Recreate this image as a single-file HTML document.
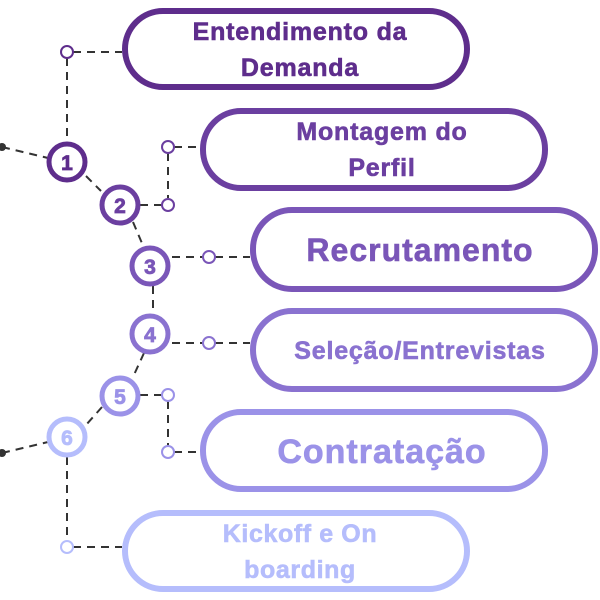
<!DOCTYPE html>
<html><head><meta charset="utf-8"><style>body{margin:0;background:#fff}svg{display:block}</style></head>
<body>
<svg width="600" height="600" viewBox="0 0 600 600" xmlns="http://www.w3.org/2000/svg" font-family="Liberation Sans, sans-serif" font-weight="bold">
<g stroke="#333" stroke-width="2" stroke-dasharray="8,6" fill="none">
<path d="M2 147 L48 158"/><path d="M86 176 L101 191"/><path d="M133 222 L144 248"/><path d="M153 286 L153 316"/><path d="M144 353 L133 377"/><path d="M102 407 L86 425"/><path d="M2 453 L48 442"/>
<path d="M67 58 L67 140"/><path d="M73 52 L122 52"/>
<path d="M168 153 L168 198"/><path d="M174 147 L200 147"/><path d="M140 205 L162 205"/>
<path d="M172 257 L203 257"/><path d="M215 257 L250 257"/>
<path d="M172 343 L203 343"/><path d="M215 343 L250 343"/>
<path d="M140 395 L162 395"/><path d="M168 401 L168 446"/><path d="M174 452 L200 452"/>
<path d="M67 457 L67 541"/><path d="M73 547 L122 547"/>
</g>
<circle cx="2" cy="147" r="4" fill="#333"/><circle cx="2" cy="453" r="4" fill="#333"/>
<g fill="#fff" stroke-width="2">
<circle cx="67" cy="52" r="6" stroke="#5e2d8c"/>
<circle cx="168" cy="147" r="6" stroke="#6b3fa0"/><circle cx="168" cy="205" r="6" stroke="#6b3fa0"/>
<circle cx="209" cy="257" r="6" stroke="#7a56b8"/><circle cx="209" cy="343" r="6" stroke="#8a72d0"/>
<circle cx="168" cy="395" r="6" stroke="#9b92e8"/><circle cx="168" cy="452" r="6" stroke="#9b92e8"/>
<circle cx="67" cy="547" r="6" stroke="#b5bdfc"/>
</g>
<g fill="#fff" stroke-width="5">
<circle cx="67" cy="162" r="18" stroke="#5e2d8c"/>
<circle cx="120" cy="205" r="18" stroke="#6b3fa0"/>
<circle cx="150" cy="266" r="18" stroke="#7a56b8"/>
<circle cx="150" cy="334" r="18" stroke="#8a72d0"/>
<circle cx="120" cy="396" r="18" stroke="#9b92e8"/>
<circle cx="67" cy="437" r="18" stroke="#b5bdfc"/>
</g>
<g font-size="21" text-anchor="middle" stroke-width="0.8">
<text x="67" y="170" fill="#5e2d8c" stroke="#5e2d8c">1</text>
<text x="120" y="213" fill="#6b3fa0" stroke="#6b3fa0">2</text>
<text x="150" y="274" fill="#7a56b8" stroke="#7a56b8">3</text>
<text x="150" y="342" fill="#8a72d0" stroke="#8a72d0">4</text>
<text x="120" y="404" fill="#9b92e8" stroke="#9b92e8">5</text>
<text x="67" y="445" fill="#b5bdfc" stroke="#b5bdfc">6</text>
</g>
<g fill="#fff" stroke-width="6">
<rect x="125" y="11" width="342" height="76" rx="38" stroke="#5e2d8c"/>
<rect x="203" y="111" width="342" height="77" rx="38" stroke="#6b3fa0"/>
<rect x="253" y="210" width="342" height="79" rx="39" stroke="#7a56b8"/>
<rect x="253" y="311" width="342" height="78" rx="39" stroke="#8a72d0"/>
<rect x="203" y="412" width="342" height="77" rx="38" stroke="#9b92e8"/>
<rect x="125" y="513" width="342" height="76" rx="38" stroke="#b5bdfc"/>
</g>
<g text-anchor="middle" stroke-width="0.6">
<text x="300" y="40" font-size="25" letter-spacing="0.8" fill="#5e2d8c" stroke="#5e2d8c">Entendimento da</text>
<text x="300" y="76" font-size="25" letter-spacing="0.8" fill="#5e2d8c" stroke="#5e2d8c">Demanda</text>
<text x="382" y="140" font-size="25" letter-spacing="0.8" fill="#6b3fa0" stroke="#6b3fa0">Montagem do</text>
<text x="382" y="176" font-size="25" letter-spacing="0.8" fill="#6b3fa0" stroke="#6b3fa0">Perfil</text>
<text x="420" y="261" font-size="32" letter-spacing="1" fill="#7a56b8" stroke="#7a56b8">Recrutamento</text>
<text x="420" y="359" font-size="25" letter-spacing="0.8" fill="#8a72d0" stroke="#8a72d0">Seleção/Entrevistas</text>
<text x="382" y="463" font-size="34" letter-spacing="1" fill="#9b92e8" stroke="#9b92e8">Contratação</text>
<text x="300" y="542" font-size="25" letter-spacing="0.6" fill="#b5bdfc" stroke="#b5bdfc">Kickoff e On</text>
<text x="300" y="578" font-size="25" letter-spacing="0.6" fill="#b5bdfc" stroke="#b5bdfc">boarding</text>
</g>
</svg>
</body></html>
